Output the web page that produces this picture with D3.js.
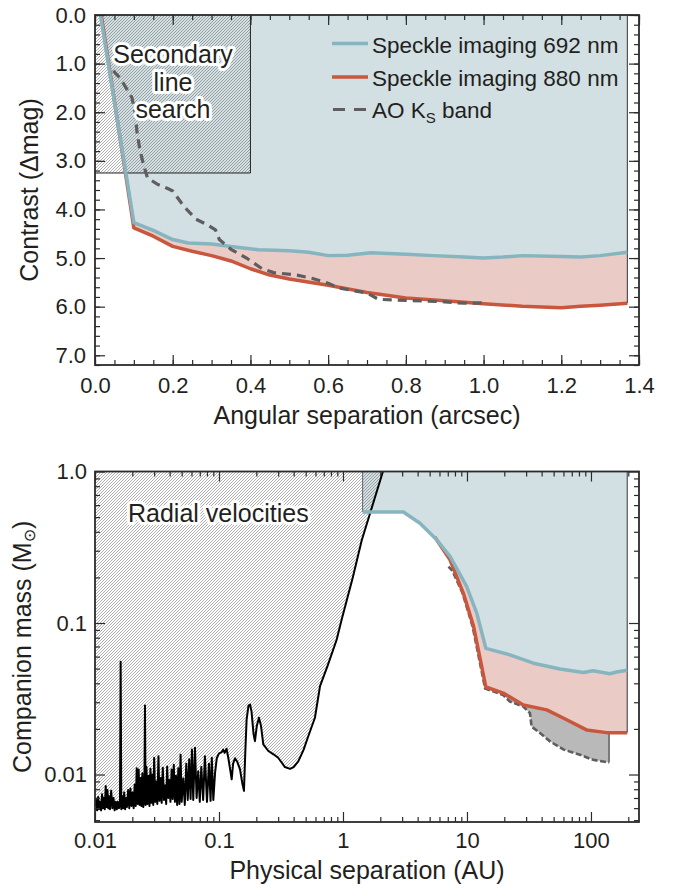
<!DOCTYPE html>
<html><head><meta charset="utf-8">
<script src="https://cdn.jsdelivr.net/npm/d3@7"></script>
<style>
body{margin:0;background:#fff;}
svg text{font-family:"Liberation Sans",Arial,Helvetica,sans-serif;fill:#231f20;}
</style></head><body>
<svg id="c" width="673" height="887"></svg>
<script>
// ---------- Top panel data (angular separation, arcsec vs contrast, mag) ----------
const sepArc692 = [0.014,0.10,0.15,0.20,0.24,0.30,0.35,0.42,0.50,0.55,0.60,0.65,0.71,0.80,0.87,0.95,1.00,1.05,1.10,1.20,1.25,1.30,1.37];
const dmag692   = [0.00,4.27,4.43,4.62,4.69,4.71,4.76,4.83,4.85,4.88,4.95,4.94,4.89,4.92,4.95,4.98,5.00,4.98,4.95,4.97,4.98,4.95,4.88];
const sepArc880 = [0.016,0.10,0.15,0.20,0.25,0.30,0.35,0.40,0.45,0.50,0.60,0.70,0.80,0.90,1.00,1.10,1.20,1.25,1.30,1.37];
const dmag880   = [0.00,4.38,4.55,4.76,4.86,4.95,5.06,5.22,5.35,5.43,5.56,5.71,5.82,5.88,5.94,5.99,6.02,5.99,5.97,5.93];
const sepArcAO  = [0.047,0.065,0.08,0.095,0.103,0.108,0.115,0.124,0.135,0.16,0.19,0.20,0.23,0.26,0.29,0.31,0.32,0.35,0.39,0.43,0.46,0.52,0.56,0.60,0.63,0.70,0.73,0.80,0.90,0.95,1.00];
const dmagAO    = [1.15,1.30,1.50,1.70,2.00,2.40,2.75,3.05,3.35,3.48,3.58,3.62,3.95,4.20,4.32,4.42,4.62,4.82,5.00,5.22,5.30,5.35,5.42,5.52,5.62,5.72,5.85,5.87,5.90,5.93,5.92];
const lineSearchSep = 0.4, lineSearchDmag = 3.25;
const topXTicks = [0,0.2,0.4,0.6,0.8,1.0,1.2,1.4];
const topXLabels = ["0.0","0.2","0.4","0.6","0.8","1.0","1.2","1.4"];
const topYTicks = [0,1,2,3,4,5,6,7];
const topYLabels = ["0.0","1.0","2.0","3.0","4.0","5.0","6.0","7.0"];

// ---------- Bottom panel data (physical separation AU vs companion mass Msun) ----------
const au692   = [1.44,3.07,4.18,5.7,7.3,9.95,12.0,14.2,22.2,34.3,56.3,86.7,104,142,161,196];
const mass692 = [0.54,0.54,0.456,0.354,0.275,0.174,0.116,0.068,0.0616,0.0543,0.0497,0.0471,0.0484,0.0463,0.0475,0.0488];
const au880   = [5.5,7.3,9.36,11.3,14.2,19.6,28.5,44,63.7,92,134,140,196];
const mass880 = [0.37,0.261,0.157,0.095,0.0378,0.0345,0.0288,0.0267,0.023,0.0197,0.0189,0.0189,0.0189];
const auAO    = [7.1,7.6,9.2,11.1,14.0,19.6,22.2,28.5,32.2,33.2,38.8,47,60.3,81.5,104,140];
const massAO  = [0.236,0.222,0.158,0.095,0.037,0.0335,0.0303,0.0281,0.0254,0.0207,0.0188,0.0165,0.0146,0.0135,0.0125,0.012];
const rvAU = [0.0100,0.0102,0.0104,0.0106,0.0108,0.0110,0.0112,0.0114,0.0116,0.0118,0.0120,0.0122,0.0124,0.0126,0.0128,0.0130,0.0132,0.0135,0.0138,0.0141,0.0144,0.0147,0.0150,0.0153,0.0156,0.0159,0.0161,0.0163,0.0166,0.0169,0.0172,0.0175,0.0178,0.0181,0.0185,0.0189,0.0193,0.0197,0.0201,0.0205,0.0209,0.0213,0.0217,0.0221,0.0225,0.0229,0.0233,0.0237,0.0241,0.0245,0.0250,0.0253,0.0256,0.0260,0.0265,0.0270,0.0275,0.0280,0.0285,0.0290,0.0295,0.0300,0.0306,0.0312,0.0318,0.0325,0.0331,0.0338,0.0345,0.0352,0.0360,0.0367,0.0375,0.0382,0.0390,0.0398,0.0406,0.0415,0.0423,0.0432,0.0441,0.0450,0.0460,0.0470,0.0480,0.0490,0.0500,0.0515,0.0530,0.0545,0.0560,0.0575,0.0590,0.0605,0.0620,0.0640,0.0660,0.0680,0.0700,0.0720,0.0745,0.0770,0.0800,0.0830,0.0855,0.0875,0.0900,0.0930,0.0960,0.1000,0.1050,0.1080,0.1110,0.1150,0.1190,0.1230,0.1266,0.1300,0.1346,0.1400,0.1477,0.1540,0.1590,0.1630,0.1670,0.1730,0.1780,0.1830,0.1900,0.1950,0.2020,0.2100,0.2180,0.2277,0.2500,0.2750,0.3000,0.3200,0.3400,0.3740,0.4000,0.4360,0.4800,0.5250,0.5940,0.6530,0.7500,0.8890,0.9750,1.2000,1.4150,1.7000,2.1000];
const rvMass = [0.0062,0.0068,0.0058,0.0071,0.0059,0.0066,0.0058,0.0074,0.0060,0.0070,0.0059,0.0084,0.0061,0.0079,0.0060,0.0072,0.0059,0.0078,0.0060,0.0070,0.0058,0.0066,0.0059,0.0066,0.0060,0.0063,0.0555,0.0059,0.0072,0.0060,0.0076,0.0059,0.0070,0.0061,0.0079,0.0060,0.0081,0.0062,0.0076,0.0060,0.0086,0.0062,0.0110,0.0064,0.0108,0.0063,0.0095,0.0062,0.0102,0.0061,0.0070,0.0285,0.0063,0.0112,0.0064,0.0098,0.0062,0.0109,0.0065,0.0100,0.0063,0.0129,0.0066,0.0090,0.0064,0.0132,0.0067,0.0095,0.0065,0.0111,0.0068,0.0085,0.0064,0.0113,0.0070,0.0092,0.0066,0.0108,0.0069,0.0116,0.0066,0.0098,0.0063,0.0110,0.0064,0.0135,0.0066,0.0094,0.0063,0.0118,0.0068,0.0126,0.0069,0.0146,0.0068,0.0150,0.0070,0.0105,0.0066,0.0112,0.0068,0.0132,0.0066,0.0118,0.0067,0.0129,0.0068,0.0103,0.0128,0.0138,0.0140,0.0146,0.0139,0.0148,0.0128,0.0108,0.0093,0.0118,0.0128,0.0122,0.0108,0.0088,0.0078,0.0140,0.0230,0.0285,0.0290,0.0260,0.0185,0.0166,0.0210,0.0237,0.0210,0.0158,0.0143,0.0136,0.0129,0.0120,0.0112,0.0109,0.0112,0.0122,0.0145,0.0179,0.0237,0.0383,0.0520,0.0775,0.1050,0.2000,0.3500,0.5700,1.0000];
const botXTicks = [0.01,0.1,1,10,100];
const botXLabels = ["0.01","0.1","1","10","100"];
const botYTicks = [0.01,0.1,1];
const botYLabels = ["0.01","0.1","1.0"];

// ---------- colours ----------
const C_BLUE = "#86b5c0", C_BLUEFILL = "#d2dfe3", C_RED = "#c8573d", C_REDFILL = "#ebcbc6",
      C_AO = "#5e5e5e", C_GREY = "#b9b9b9", C_AX = "#2b2b2b";
const FONT = '"Liberation Sans",Arial,Helvetica,sans-serif';

const svg = d3.select("#c");
const defs = svg.append("defs");
const pat = defs.append("pattern").attr("id","hatch").attr("patternUnits","userSpaceOnUse")
  .attr("width",3).attr("height",3);
pat.append("path").attr("d","M-0.75,0.75 L0.75,-0.75 M0,3 L3,0 M2.25,3.75 L3.75,2.25")
  .attr("stroke","#6a6a6a").attr("stroke-width",0.55).attr("fill","none");

const zip = (xs, ys) => xs.map((x,i)=>[x, ys[i]]);

function halo(sel){
  return sel.attr("stroke","#fff").attr("stroke-width",6).attr("stroke-linejoin","round")
    .attr("paint-order","stroke");
}

function axes(g, X, Y, xr, yr, majX, labX, minX, majY, labY, minY, padX, padY){
  const [x0,x1] = xr, [y0,y1] = yr;
  const style = s => {
    s.select(".domain").remove();
    s.selectAll("line").attr("stroke",C_AX).attr("stroke-width",1.2);
    s.selectAll("text").attr("font-size",22).attr("font-family",FONT).attr("fill","#231f20");
    s.attr("font-family",FONT);
  };
  g.append("g").attr("transform",`translate(0,${y1})`)
    .call(d3.axisBottom(X).tickValues(minX).tickSize(-5).tickFormat("")).call(style);
  g.append("g").attr("transform",`translate(0,${y1})`)
    .call(d3.axisBottom(X).tickValues(majX).tickSize(-10).tickPadding(padX).tickFormat((d,i)=>labX[i])).call(style);
  g.append("g").attr("transform",`translate(0,${y0})`)
    .call(d3.axisTop(X).tickValues(minX).tickSize(-5).tickFormat("")).call(style);
  g.append("g").attr("transform",`translate(0,${y0})`)
    .call(d3.axisTop(X).tickValues(majX).tickSize(-10).tickFormat("")).call(style);
  g.append("g").attr("transform",`translate(${x0},0)`)
    .call(d3.axisLeft(Y).tickValues(minY).tickSize(-5).tickFormat("")).call(style);
  g.append("g").attr("transform",`translate(${x0},0)`)
    .call(d3.axisLeft(Y).tickValues(majY).tickSize(-10).tickPadding(padY).tickFormat((d,i)=>labY[i])).call(style);
  g.append("g").attr("transform",`translate(${x1},0)`)
    .call(d3.axisRight(Y).tickValues(minY).tickSize(-5).tickFormat("")).call(style);
  g.append("g").attr("transform",`translate(${x1},0)`)
    .call(d3.axisRight(Y).tickValues(majY).tickSize(-10).tickFormat("")).call(style);
  g.append("rect").attr("x",x0).attr("y",y0).attr("width",x1-x0).attr("height",y1-y0)
    .attr("fill","none").attr("stroke",C_AX).attr("stroke-width",1.8);
}

// =================== TOP PANEL ===================
{
  const xr=[95,639], yr=[15,365];
  const X = d3.scaleLinear().domain([0,1.4]).range(xr);
  const Y = d3.scaleLinear().domain([0,7.2]).range(yr);
  const g = svg.append("g");
  defs.append("clipPath").attr("id","clipT").append("rect")
    .attr("x",xr[0]).attr("y",yr[0]).attr("width",xr[1]-xr[0]).attr("height",yr[1]-yr[0]);
  const pg = g.append("g").attr("clip-path","url(#clipT)");
  const line = d3.line().x(d=>X(d[0])).y(d=>Y(d[1]));
  const b = zip(sepArc692, dmag692), r = zip(sepArc880, dmag880), ao = zip(sepArcAO, dmagAO);
  const lastB = b[b.length-1], lastR = r[r.length-1];
  // fills
  pg.append("path").attr("d", line(b.concat([[lastB[0],0]])) + "Z").attr("fill",C_BLUEFILL);
  pg.append("path").attr("d", line(b.concat(r.slice().reverse())) + "Z").attr("fill",C_REDFILL);
  pg.append("line").attr("x1",X(lastB[0])).attr("x2",X(lastB[0])).attr("y1",Y(0)).attr("y2",Y(lastR[1]))
    .attr("stroke","#333").attr("stroke-width",1);
  // secondary line search hatch
  pg.append("rect").attr("x",X(0)).attr("y",Y(0)).attr("width",X(lineSearchSep)-X(0))
    .attr("height",Y(lineSearchDmag)-Y(0)).attr("fill","url(#hatch)");
  pg.append("path").attr("d",`M${X(lineSearchSep)},${Y(0)}V${Y(lineSearchDmag)}H${X(0)}`)
    .attr("fill","none").attr("stroke","#222").attr("stroke-width",1);
  // lines
  pg.append("path").attr("d",line(r)).attr("fill","none").attr("stroke",C_RED).attr("stroke-width",3.5).attr("stroke-linejoin","round");
  pg.append("path").attr("d",line(b)).attr("fill","none").attr("stroke",C_BLUE).attr("stroke-width",3.5).attr("stroke-linejoin","round");
  pg.append("path").attr("d",line(ao)).attr("fill","none").attr("stroke",C_AO).attr("stroke-width",3.2)
    .attr("stroke-dasharray","9,6");
  axes(g, X, Y, xr, yr, topXTicks, topXLabels, X.ticks(28), topYTicks, topYLabels, Y.ticks(36), 12, 9);
  // annotation
  const ann = g.append("text").attr("font-size",25).attr("text-anchor","middle").call(halo);
  [["Secondary",63],["line",90.5],["search",117.5]].forEach(([t,y])=>{
    ann.append("tspan").attr("x",173).attr("y",y).text(t);
  });
  // legend
  const lg = g.append("g");
  lg.append("line").attr("x1",332).attr("x2",368).attr("y1",43.5).attr("y2",43.5).attr("stroke",C_BLUE).attr("stroke-width",3.5);
  lg.append("line").attr("x1",332).attr("x2",368).attr("y1",77).attr("y2",77).attr("stroke",C_RED).attr("stroke-width",3.5);
  lg.append("line").attr("x1",333).attr("x2",366).attr("y1",109.5).attr("y2",109.5).attr("stroke",C_AO).attr("stroke-width",3.2).attr("stroke-dasharray","12,9");
  lg.append("text").attr("x",372).attr("y",52.5).attr("font-size",22.5).text("Speckle imaging 692 nm");
  lg.append("text").attr("x",372).attr("y",86).attr("font-size",22.5).text("Speckle imaging 880 nm");
  const t3 = lg.append("text").attr("x",372).attr("y",118).attr("font-size",22.5);
  t3.append("tspan").text("AO K");
  t3.append("tspan").attr("font-size",15).attr("dy",5).text("S");
  t3.append("tspan").attr("dy",-5).text(" band");
  // axis titles
  g.append("text").attr("x",(xr[0]+xr[1])/2).attr("y",424).attr("text-anchor","middle").attr("font-size",25)
    .text("Angular separation (arcsec)");
  g.append("text").attr("transform",`translate(38,${(yr[0]+yr[1])/2}) rotate(-90)`).attr("text-anchor","middle")
    .attr("font-size",25).text("Contrast (\u0394mag)");
}

// =================== BOTTOM PANEL ===================
{
  const xr=[95,639], yr=[471.5,822];
  const X = d3.scaleLog().domain([0.01,244]).range(xr);
  const Y = d3.scaleLog().domain([0.00486,1]).range([yr[1],yr[0]]);
  const g = svg.append("g");
  defs.append("clipPath").attr("id","clipB").append("rect")
    .attr("x",xr[0]).attr("y",yr[0]).attr("width",xr[1]-xr[0]).attr("height",yr[1]-yr[0]);
  const pg = g.append("g").attr("clip-path","url(#clipB)");
  const line = d3.line().x(d=>X(d[0])).y(d=>Y(d[1]));
  const b = zip(au692, mass692), r = zip(au880, mass880), ao = zip(auAO, massAO), rv = zip(rvAU, rvMass);
  const firstB = b[0], lastB = b[b.length-1], lastR = r[r.length-1];
  // blue fill
  pg.append("path").attr("d", line(b.concat([[lastB[0],1],[firstB[0],1]])) + "Z").attr("fill",C_BLUEFILL);
  // red fill
  const bSub = b.filter(d=>d[0]>=5.7);
  pg.append("path").attr("d", line(bSub.concat(r.slice().reverse())) + "Z").attr("fill",C_REDFILL);
  // grey fill (AO)
  const aoSub = ao.filter(d=>d[0]>=19.6);
  const rSub = r.filter(d=>d[0]>=19.6 && d[0]<=140);
  pg.append("path").attr("d", line(aoSub.concat(rSub.slice().reverse())) + "Z").attr("fill",C_GREY);
  const lastAO = ao[ao.length-1];
  pg.append("line").attr("x1",X(lastAO[0])).attr("x2",X(lastAO[0])).attr("y1",Y(lastAO[1])).attr("y2",Y(0.0189))
    .attr("stroke","#222").attr("stroke-width",1);
  // edges
  pg.append("line").attr("x1",X(lastB[0])).attr("x2",X(lastB[0])).attr("y1",Y(1)).attr("y2",Y(lastR[1]))
    .attr("stroke","#333").attr("stroke-width",1);
  pg.append("line").attr("x1",X(firstB[0])).attr("x2",X(firstB[0])).attr("y1",Y(1)).attr("y2",Y(firstB[1]))
    .attr("stroke","#666").attr("stroke-width",1);
  // RV hatch
  pg.append("path").attr("d", line(rv.concat([[rvAU[0],1]])) + "Z").attr("fill","url(#hatch)");
  pg.append("path").attr("d", line(rv)).attr("fill","none").attr("stroke","#000").attr("stroke-width",2)
    .attr("stroke-linejoin","round");
  // lines
  pg.append("path").attr("d",line(ao)).attr("fill","none").attr("stroke",C_AO).attr("stroke-width",2.6)
    .attr("stroke-dasharray","6,2.5");
  pg.append("path").attr("d",line(r)).attr("fill","none").attr("stroke",C_RED).attr("stroke-width",3.5).attr("stroke-linejoin","round");
  pg.append("path").attr("d",line(b)).attr("fill","none").attr("stroke",C_BLUE).attr("stroke-width",3.5).attr("stroke-linejoin","round");
  const minX = X.ticks().filter(t=>!botXTicks.some(m=>Math.abs(m-t)/m<1e-6));
  const minY = Y.ticks().filter(t=>!botYTicks.some(m=>Math.abs(m-t)/m<1e-6));
  axes(g, X, Y, xr, yr, botXTicks, botXLabels, minX, botYTicks, botYLabels, minY, 10, 8);
  g.append("text").attr("x",128).attr("y",522).attr("font-size",25).call(halo).text("Radial velocities");
  g.append("text").attr("x",(xr[0]+xr[1])/2).attr("y",879).attr("text-anchor","middle").attr("font-size",25)
    .text("Physical separation (AU)");
  const yt = g.append("text").attr("transform",`translate(31,${(yr[0]+yr[1])/2}) rotate(-90)`).attr("text-anchor","middle")
    .attr("font-size",25);
  yt.append("tspan").text("Companion mass (M");
  yt.append("tspan").attr("font-size",16).attr("dy",4).attr("font-family","DejaVu Sans").text("\u2299");
  yt.append("tspan").attr("dy",-4).text(")");
}
</script></body></html>
